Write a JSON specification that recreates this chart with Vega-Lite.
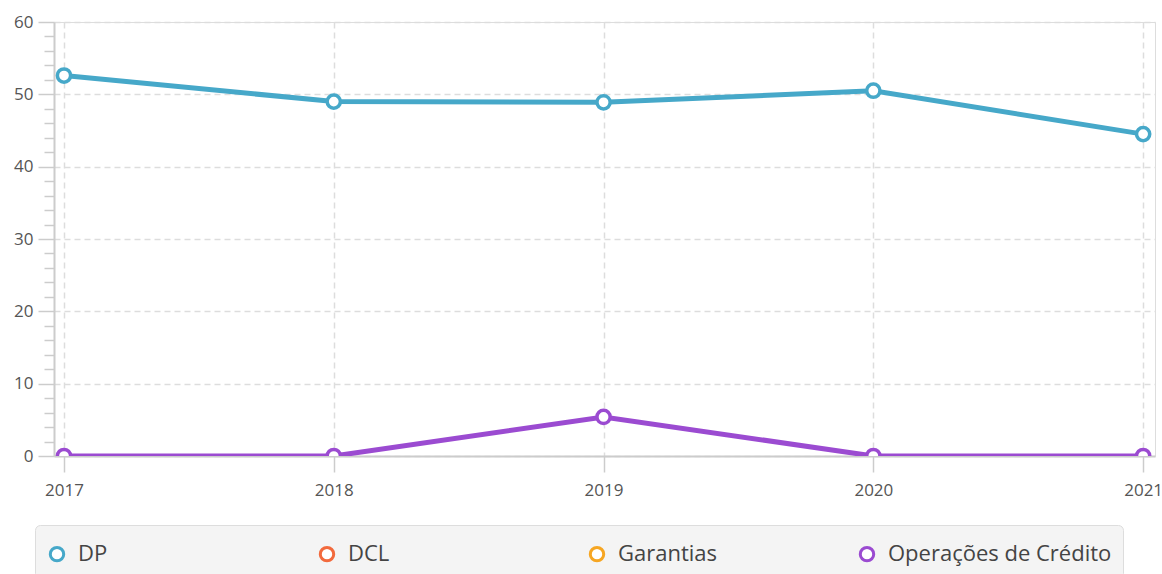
{
  "$schema": "https://vega.github.io/schema/vega-lite/v6.json",
  "autosize": {"type": "none"},
  "width": 1101,
  "height": 434,
  "padding": {"left": 54, "top": 22, "right": 7, "bottom": 118},
  "background": "white",
  "data": {
    "values": [
      {"ano": 2017, "serie": "DP", "valor": 52.6},
      {"ano": 2018, "serie": "DP", "valor": 49.0},
      {"ano": 2019, "serie": "DP", "valor": 48.9},
      {"ano": 2020, "serie": "DP", "valor": 50.5},
      {"ano": 2021, "serie": "DP", "valor": 44.5},
      {"ano": 2017, "serie": "Operações de Crédito", "valor": 0},
      {"ano": 2018, "serie": "Operações de Crédito", "valor": 0},
      {"ano": 2019, "serie": "Operações de Crédito", "valor": 5.4},
      {"ano": 2020, "serie": "Operações de Crédito", "valor": 0},
      {"ano": 2021, "serie": "Operações de Crédito", "valor": 0}
    ]
  },
  "encoding": {
    "x": {
      "field": "ano",
      "type": "quantitative",
      "scale": {"domain": [2016.963, 2021.044], "nice": false, "zero": false},
      "axis": {
        "title": null,
        "values": [2017, 2018, 2019, 2020, 2021],
        "format": "d",
        "tickSize": 16,
        "tickColor": "#cccccc",
        "tickWidth": 1.5,
        "domainColor": "#cccccc",
        "domainWidth": 2,
        "labelFont": "Open Sans",
        "labelFontSize": 17,
        "labelColor": "#555555",
        "labelPadding": 10,
        "labelFlush": false,
        "grid": true,
        "gridColor": "#dddddd",
        "gridDash": [6, 4],
        "gridWidth": 1.5
      }
    },
    "y": {
      "field": "valor",
      "type": "quantitative",
      "scale": {"domain": [0, 60], "nice": false},
      "axis": {
        "title": null,
        "values": [0, 2, 4, 6, 8, 10, 12, 14, 16, 18, 20, 22, 24, 26, 28, 30, 32, 34, 36, 38, 40, 42, 44, 46, 48, 50, 52, 54, 56, 58, 60],
        "labelExpr": "datum.value % 10 === 0 ? datum.label : ''",
        "tickSize": {"condition": {"test": "datum.value % 10 === 0", "value": 16}, "value": 10},
        "tickColor": "#cccccc",
        "tickWidth": 1.5,
        "domainColor": "#cccccc",
        "domainWidth": 2,
        "labelFont": "Open Sans",
        "labelFontSize": 17,
        "labelColor": "#555555",
        "labelPadding": 5,
        "labelFlush": false,
        "grid": true,
        "gridColor": "#dddddd",
        "gridDash": [6, 4],
        "gridWidth": 1.5,
        "gridOpacity": {"condition": {"test": "datum.value % 10 === 0", "value": 1}, "value": 0}
      }
    },
    "stroke": {
      "field": "serie",
      "type": "nominal",
      "scale": {
        "domain": ["DP", "DCL", "Garantias", "Operações de Crédito"],
        "range": ["#46a8c9", "#f26a3d", "#f6a623", "#9b4bd1"]
      },
      "legend": {
        "title": " ",
        "titleFontSize": 6,
        "titlePadding": 1,
        "orient": "none",
        "legendX": -19,
        "legendY": 503,
        "direction": "horizontal",
        "columns": 4,
        "gridAlign": "all",
        "columnPadding": 12,
        "symbolType": "circle",
        "symbolSize": 180,
        "symbolStrokeWidth": 3,
        "symbolFillColor": "white",
        "labelFont": "Open Sans",
        "labelFontSize": 22,
        "labelColor": "#444444",
        "labelOffset": 10,
        "labelLimit": 400,
        "padding": 11,
        "fillColor": "#f4f4f4",
        "strokeColor": "#dddddd",
        "cornerRadius": 5
      }
    }
  },
  "layer": [
    {
      "mark": {"type": "line", "strokeWidth": 5, "clip": true}
    },
    {
      "mark": {"type": "point", "shape": "circle", "filled": true, "fill": "white", "size": 175, "strokeWidth": 3.5, "clip": true, "opacity": 1}
    }
  ]
}
